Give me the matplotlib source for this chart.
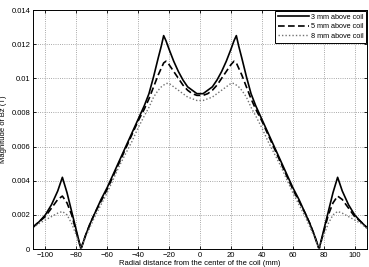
import matplotlib
matplotlib.use("Agg")
import matplotlib.pyplot as plt

plt.rcParams['font.family'] = ['Liberation Sans', 'DejaVu Sans']

# radial positions (mm)
r = [-108, -104, -100, -96, -92, -89, -86, -83, -80, -77, -74, -71, -68, -64, -60,
     -56, -52, -48, -44, -40, -36, -33, -30, -27, -25, -23.5, -22, -20, -17, -14,
     -11, -8, -5, -2, 0,
     2, 5, 8, 11, 14, 17, 20, 22, 23.5, 25, 27, 30, 33, 36, 40, 44, 48, 52, 56,
     60, 64, 68, 71, 74, 77, 80, 83, 86, 89, 92, 96, 100, 104, 108]

# Bz magnitude (T), 3 mm above coil
bz_3mm = [0.00128, 0.0016, 0.0020, 0.0026, 0.0034, 0.0042, 0.0033, 0.0022, 0.0011, 0.0,
          0.0008, 0.0015, 0.0021, 0.0029, 0.0036, 0.0044, 0.0052, 0.0060, 0.0068, 0.0076,
          0.0084, 0.0091, 0.0101, 0.0112, 0.0119, 0.0125, 0.0122, 0.0117, 0.0110, 0.0104,
          0.0099, 0.0095, 0.0093, 0.0091, 0.0091,
          0.0091, 0.0093, 0.0095, 0.0099, 0.0104, 0.0110, 0.0117, 0.0122, 0.0125, 0.0119,
          0.0112, 0.0101, 0.0091, 0.0084, 0.0076, 0.0068, 0.0060, 0.0052, 0.0044, 0.0036,
          0.0029, 0.0021, 0.0015, 0.0008, 0.0, 0.0011, 0.0022, 0.0033, 0.0042, 0.0034,
          0.0026, 0.0020, 0.0016, 0.00125]

# 5 mm above coil
bz_5mm = [0.00128, 0.0016, 0.0019, 0.0024, 0.0029, 0.0031, 0.0027, 0.0020, 0.0010, 0.0,
          0.0008, 0.0015, 0.0021, 0.0028, 0.0035, 0.0043, 0.0051, 0.0059, 0.0067, 0.0075,
          0.0082, 0.0088, 0.0095, 0.0102, 0.0106, 0.0109, 0.0110, 0.0108, 0.0104, 0.0100,
          0.0096, 0.0093, 0.0091, 0.0090, 0.0090,
          0.0090, 0.0091, 0.0093, 0.0096, 0.0100, 0.0104, 0.0108, 0.0110, 0.0109, 0.0106,
          0.0102, 0.0095, 0.0088, 0.0082, 0.0075, 0.0067, 0.0059, 0.0051, 0.0043, 0.0035,
          0.0028, 0.0021, 0.0015, 0.0008, 0.0, 0.0010, 0.0020, 0.0027, 0.0031, 0.0029,
          0.0024, 0.0019, 0.0016, 0.00125]

# 8 mm above coil
bz_8mm = [0.00125, 0.0015, 0.0017, 0.0019, 0.0021, 0.0022, 0.0020, 0.0015, 0.0008, 0.0,
          0.0007, 0.0013, 0.0019, 0.0026, 0.0033, 0.0041, 0.0049, 0.0056, 0.0063, 0.0071,
          0.0078, 0.0083, 0.0089, 0.0093, 0.0095, 0.0096, 0.0097, 0.0097, 0.0095, 0.0093,
          0.0091, 0.0089, 0.0088, 0.0087, 0.0087,
          0.0087, 0.0088, 0.0089, 0.0091, 0.0093, 0.0095, 0.0097, 0.0097, 0.0096, 0.0095,
          0.0093, 0.0089, 0.0083, 0.0078, 0.0071, 0.0063, 0.0056, 0.0049, 0.0041, 0.0033,
          0.0026, 0.0019, 0.0013, 0.0007, 0.0, 0.0008, 0.0015, 0.0020, 0.0022, 0.0021,
          0.0019, 0.0017, 0.0015, 0.0012]

xticks = [-100, -80, -60, -40, -20, 0, 20, 40, 60, 80, 100]
yticks = [0, 0.002, 0.004, 0.006, 0.008, 0.01, 0.012, 0.014]
ytick_labels = ['0', '0.002', '0.004', '0.006', '0.008', '0.01', '0.012', '0.014']

fig = plt.figure(figsize=(3.69, 2.67), dpi=100)
ax = fig.add_axes([0.0894, 0.0674, 0.9052, 0.8951])

ax.plot(r, bz_3mm, color='black', lw=1.2, ls='-', label='3 mm above coil')
ax.plot(r, bz_5mm, color='black', lw=1.2, ls=(0, (4, 2)), label='5 mm above coil')
ax.plot(r, bz_8mm, color='0.45', lw=1.0, ls=(0, (1, 1.5)), label='8 mm above coil')

ax.set_xlim(-108, 108)
ax.set_ylim(0, 0.014)
ax.set_xticks(xticks)
ax.set_yticks(yticks)
ax.set_yticklabels(ytick_labels)
ax.tick_params(direction='in', length=2.5, width=0.6, labelsize=5.5,
               top=True, right=True, pad=2, colors='black')
ax.grid(True, ls=':', color='0.55', lw=0.6)
for s in ax.spines.values():
    s.set_linewidth(0.7)

ax.set_xlabel('Radial distance from the center of the coil (mm)', fontsize=5.5, labelpad=1)
ax.set_ylabel('Magnitude of Bz (T)', fontsize=5.5, labelpad=3)

leg = ax.legend(loc='upper right', fontsize=5.2, frameon=True, fancybox=False,
                edgecolor='black', framealpha=1, borderaxespad=0.1,
                handlelength=4.2, handletextpad=0.3, labelspacing=0.35,
                borderpad=0.4)
leg.get_frame().set_linewidth(0.7)

fig.savefig('out.png', dpi=100)
